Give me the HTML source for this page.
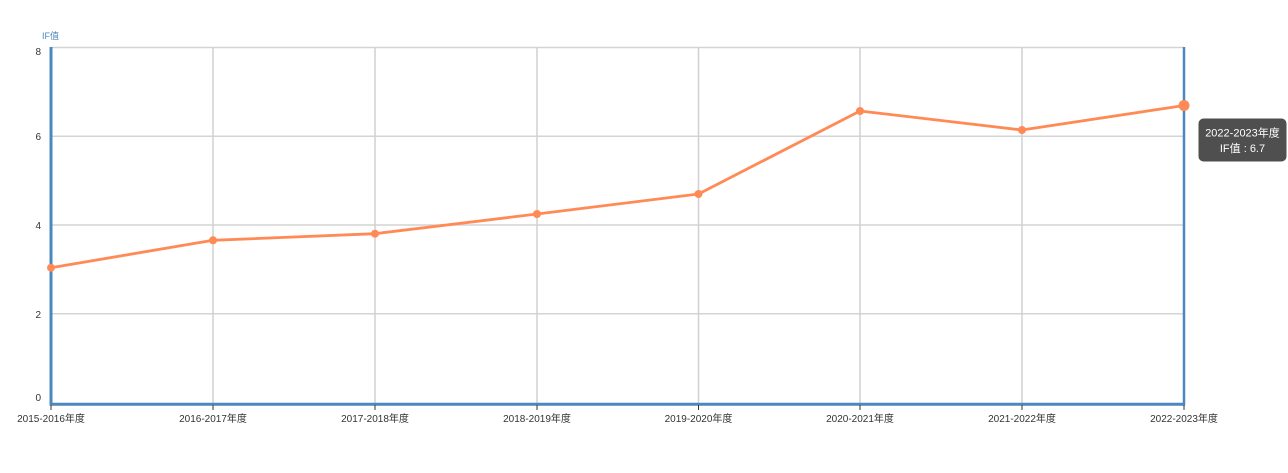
<!DOCTYPE html>
<html><head><meta charset="utf-8"><style>
html,body{margin:0;padding:0;background:#fff;}
svg{display:block;}
text{font-family:"Liberation Sans","Noto Sans CJK SC",sans-serif;}
</style></head><body>
<svg width="1288" height="473" viewBox="0 0 1288 473" xmlns="http://www.w3.org/2000/svg">
<rect width="1288" height="473" fill="#fff"/>
<!-- horizontal grid -->
<g stroke="#d4d4d4" stroke-width="1.5">
<line x1="51" y1="47.5" x2="1184" y2="47.5"/>
<line x1="51" y1="136.3" x2="1184" y2="136.3"/>
<line x1="51" y1="225" x2="1184" y2="225"/>
<line x1="51" y1="313.7" x2="1184" y2="313.7"/>
</g>
<!-- vertical grid -->
<g stroke="#d0d0d0" stroke-width="1.5">
<line x1="213" y1="47" x2="213" y2="403"/>
<line x1="375" y1="47" x2="375" y2="403"/>
<line x1="537" y1="47" x2="537" y2="403"/>
<line x1="698.5" y1="47" x2="698.5" y2="403"/>
<line x1="860" y1="47" x2="860" y2="403"/>
<line x1="1022" y1="47" x2="1022" y2="403"/>
</g>
<!-- axis pointer -->
<line x1="1184" y1="47" x2="1184" y2="405" stroke="#4a88bf" stroke-width="2.5"/>
<!-- axes -->
<line x1="51" y1="47" x2="51" y2="405.5" stroke="#4a88bf" stroke-width="3"/>
<line x1="50" y1="404.2" x2="1185" y2="404.2" stroke="#4a88bf" stroke-width="3"/>
<!-- x ticks -->
<g stroke="#333" stroke-width="1">
<line x1="51" y1="405" x2="51" y2="410"/>
<line x1="213" y1="405" x2="213" y2="410"/>
<line x1="375" y1="405" x2="375" y2="410"/>
<line x1="537" y1="405" x2="537" y2="410"/>
<line x1="698.5" y1="405" x2="698.5" y2="410"/>
<line x1="860" y1="405" x2="860" y2="410"/>
<line x1="1022" y1="405" x2="1022" y2="410"/>
<line x1="1184" y1="405" x2="1184" y2="410"/>
</g>
<!-- y labels -->
<g font-size="10" fill="#333" text-anchor="end">
<text x="41" y="55">8</text>
<text x="41" y="140">6</text>
<text x="41" y="229">4</text>
<text x="41" y="318">2</text>
<text x="41" y="401">0</text>
</g>
<text x="42" y="39" font-size="9" fill="#4a88bf">IF值</text>
<!-- x labels -->
<g font-size="10" fill="#333" text-anchor="middle">
<text x="51" y="422">2015-2016年度</text>
<text x="213" y="422">2016-2017年度</text>
<text x="375" y="422">2017-2018年度</text>
<text x="537" y="422">2018-2019年度</text>
<text x="698.5" y="422">2019-2020年度</text>
<text x="860" y="422">2020-2021年度</text>
<text x="1022" y="422">2021-2022年度</text>
<text x="1184" y="422">2022-2023年度</text>
</g>
<!-- series -->
<polyline fill="none" stroke="#ff8a55" stroke-width="2.8" stroke-linejoin="round"
points="51,267.7 213,240.3 375,233.7 537,214 698.5,194 860,111 1022,130 1184,105.5"/>
<g fill="#ff8a55">
<circle cx="51" cy="267.7" r="4"/>
<circle cx="213" cy="240.3" r="4"/>
<circle cx="375" cy="233.7" r="4"/>
<circle cx="537" cy="214" r="4"/>
<circle cx="698.5" cy="194" r="4"/>
<circle cx="860" cy="111" r="4"/>
<circle cx="1022" cy="130" r="4"/>
<circle cx="1184" cy="105.5" r="5.5"/>
</g>
<!-- tooltip -->
<rect x="1198.5" y="118.5" width="88" height="43" rx="5" fill="#4f4f4f"/>
<g font-size="11" fill="#fff" text-anchor="middle">
<text x="1242.5" y="136.5">2022-2023年度</text>
<text x="1242.5" y="152">IF值 : 6.7</text>
</g>
</svg>
</body></html>
